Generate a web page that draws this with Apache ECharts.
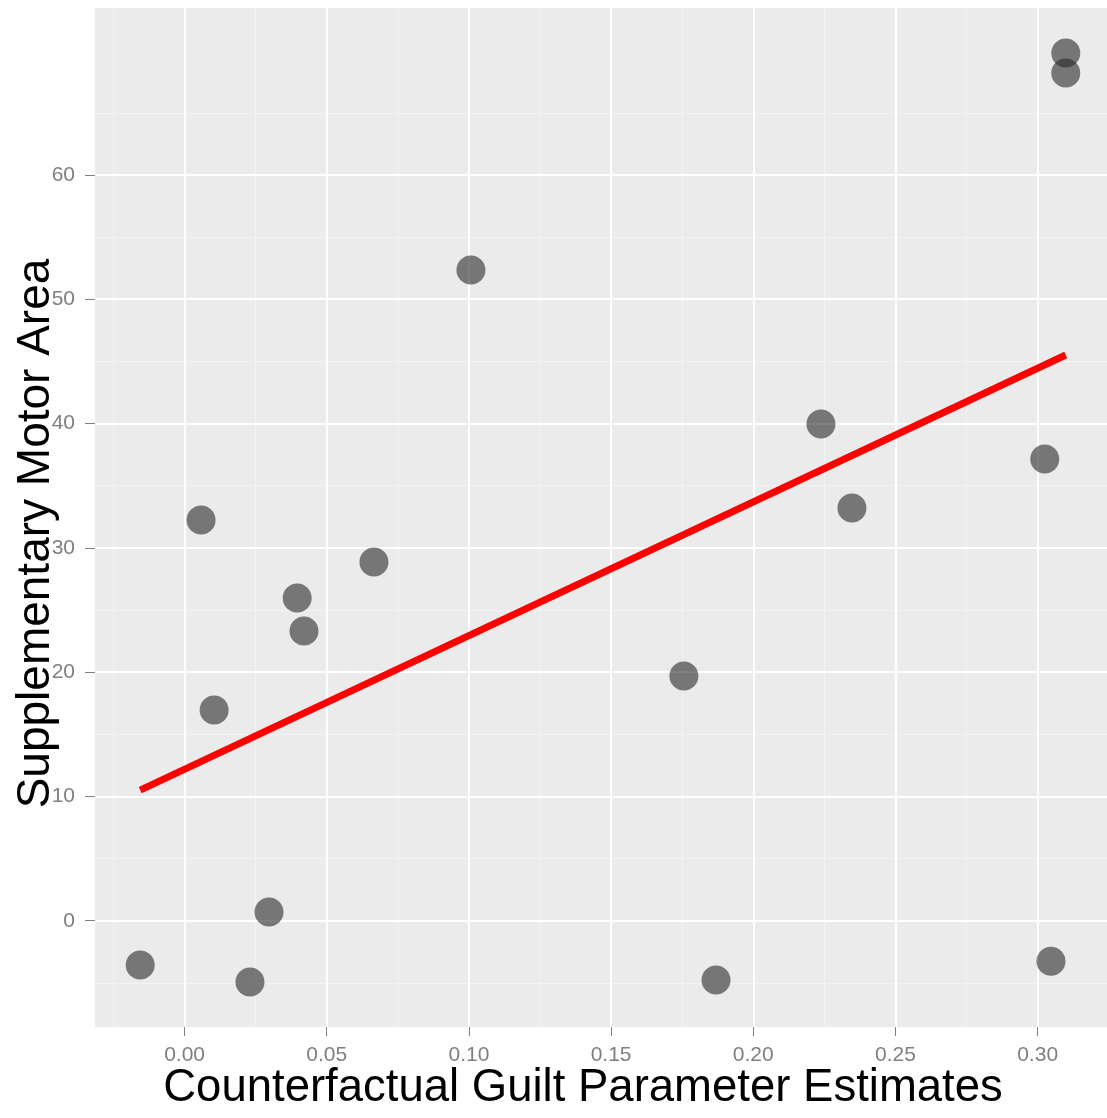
<!DOCTYPE html>
<html>
<head>
<meta charset="utf-8">
<script src="https://cdn.jsdelivr.net/npm/echarts@6/dist/echarts.min.js"></script>
<style>
html,body{margin:0;padding:0;background:#fff;}
#chart{width:1107px;height:1118px;}
</style>
</head>
<body>
<div id="chart"></div>
<script>
// Data
const guiltX = [-0.0156, 0.0058, 0.0104, 0.0230, 0.0297, 0.0396, 0.0420, 0.0666, 0.1007, 0.1756, 0.1869, 0.2238, 0.2347, 0.3025, 0.3047, 0.3099, 0.3099];
const smaY   = [-3.56, 32.24, 16.95, -4.93, 0.70, 25.96, 23.31, 28.86, 52.35, 19.69, -4.77, 39.96, 33.20, 37.15, -3.26, 69.81, 68.20];
const fitX = [-0.0156, 0.3099];
const fitY = [10.51, 45.51];
const xTicks = [0.00, 0.05, 0.10, 0.15, 0.20, 0.25, 0.30];
const xMinor = [-0.025, 0.025, 0.075, 0.125, 0.175, 0.225, 0.275];
const yTicks = [0, 10, 20, 30, 40, 50, 60];
const yMinor = [-5, 5, 15, 25, 35, 45, 55, 65];

const points = guiltX.map((x, i) => [x, smaY[i]]);
const fitLine = fitX.map((x, i) => [x, fitY[i]]);

const X_MIN = -0.0315, X_MAX = 0.3244, Y_MIN = -8.55, Y_MAX = 73.43;
const FONT = '"Liberation Sans", Arial, Helvetica, sans-serif';
const tickColor = '#7f7f7f';

const chart = echarts.init(document.getElementById('chart'), null, {renderer: 'canvas'});
chart.setOption({
  animation: false,
  backgroundColor: '#ffffff',
  grid: {left: 95, right: 0, top: 8, bottom: 91, show: true, backgroundColor: '#ebebeb', borderWidth: 0,
         containLabel: false, outerBoundsMode: 'none'},
  xAxis: [
    { // minor grid
      type: 'value', min: X_MIN, max: X_MAX, position: 'top', z: 0,
      axisLine: {show: false, onZero: false}, axisLabel: {show: false},
      axisTick: {show: false, customValues: xMinor},
      splitLine: {show: true, lineStyle: {color: '#f3f3f3', width: 1}}
    },
    { // major
      type: 'value', min: X_MIN, max: X_MAX, position: 'bottom', z: 1,
      name: 'Counterfactual Guilt Parameter Estimates',
      nameLocation: 'middle', nameGap: 38, nameMoveOverlap: false,
      nameTextStyle: {fontFamily: FONT, fontSize: 45.5, color: '#000', padding: [0, 36, 0, 0]},
      axisLine: {show: false, onZero: false},
      axisTick: {show: true, length: 9, customValues: xTicks, lineStyle: {color: tickColor, width: 1}},
      axisLabel: {customValues: xTicks, margin: 18, fontFamily: FONT, fontSize: 21, color: tickColor,
        formatter: v => v.toFixed(2)},
      splitLine: {show: true, lineStyle: {color: '#ffffff', width: 2}}
    }
  ],
  yAxis: [
    {
      type: 'value', min: Y_MIN, max: Y_MAX, position: 'right', z: 0,
      axisLine: {show: false, onZero: false}, axisLabel: {show: false},
      axisTick: {show: false, customValues: yMinor},
      splitLine: {show: true, lineStyle: {color: '#f3f3f3', width: 1}}
    },
    {
      type: 'value', min: Y_MIN, max: Y_MAX, position: 'left', z: 1,
      name: 'Supplementary Motor Area',
      nameLocation: 'middle', nameGap: 36, nameMoveOverlap: false,
      nameTextStyle: {fontFamily: FONT, fontSize: 46, color: '#000', padding: [0, 32, 0, 0]},
      axisLine: {show: false, onZero: false},
      axisTick: {show: true, length: 10, customValues: yTicks, lineStyle: {color: tickColor, width: 1}},
      axisLabel: {customValues: yTicks, margin: 20, fontFamily: FONT, fontSize: 21, color: tickColor},
      splitLine: {show: true, lineStyle: {color: '#ffffff', width: 2}}
    }
  ],
  series: [
    {
      type: 'scatter', xAxisIndex: 1, yAxisIndex: 1, z: 2,
      data: points, symbol: 'circle', symbolSize: 29,
      itemStyle: {color: 'rgba(40,40,40,0.75)', borderWidth: 0}
    },
    {
      type: 'line', xAxisIndex: 1, yAxisIndex: 1, z: 3,
      data: fitLine, showSymbol: false, symbol: 'none',
      lineStyle: {color: '#ff0000', width: 7, cap: 'butt'}
    }
  ]
});
</script>
</body>
</html>
